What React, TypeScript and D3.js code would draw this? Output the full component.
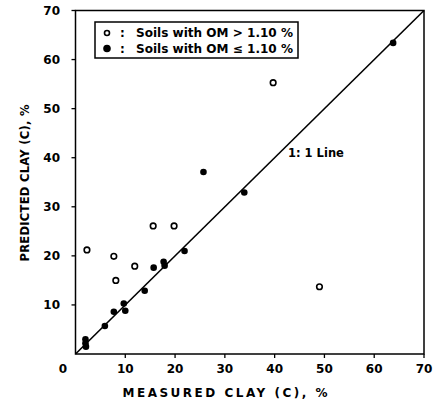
import React from "react";
import * as d3 from "d3";

// measured / predicted clay, soils with OM > 1.10 %
const openMeasured = [2.3, 7.7, 8.1, 11.9, 15.6, 19.8, 39.7, 49.0];
const openPredicted = [21.2, 19.9, 15.0, 17.9, 26.1, 26.1, 55.3, 13.7];

// soils with OM <= 1.10 %
const filledMeasured = [2.0, 2.0, 2.1, 5.9, 7.7, 9.7, 10.0, 13.9, 15.7, 17.7, 17.9, 21.9, 25.7, 33.9, 63.8];
const filledPredicted = [3.0, 2.2, 1.5, 5.7, 8.6, 10.3, 8.8, 12.9, 17.6, 18.8, 18.0, 21.0, 37.1, 32.9, 63.4];

const ticks = [10, 20, 30, 40, 50, 60, 70];
const legendLabels = ["Soils with OM > 1.10 %", "Soils with OM \u2264 1.10 %"];

const font = "'DejaVu Sans', sans-serif";

export default function App() {
  const width = 439, height = 412;
  const x = d3.scaleLinear().domain([0, 70]).range([75.5, 424]);
  const y = d3.scaleLinear().domain([0, 70]).range([354, 10.5]);

  const line = d3.line<number>().x(d => x(d)).y(d => y(d));

  return (
    <svg width={width} height={height} style={{ position: "absolute", left: 0, top: 0, background: "#fff" }}>
      {/* frame */}
      <rect x={x(0)} y={y(70)} width={x(70) - x(0)} height={y(0) - y(70)} fill="none" stroke="#000" strokeWidth={1.5} />

      {/* ticks */}
      {ticks.map(t => (
        <g key={"t" + t}>
          <line x1={x(0) - 4} x2={x(0)} y1={y(t)} y2={y(t)} stroke="#000" strokeWidth={1.3} />
          <text x={60} y={y(t)} dy="0.36em" textAnchor="end" fontFamily={font} fontWeight="bold" fontSize={12}>{t}</text>
          <line x1={x(t)} x2={x(t)} y1={y(0)} y2={y(0) + 4} stroke="#000" strokeWidth={1.3} />
          <text x={x(t)} y={373} textAnchor="middle" fontFamily={font} fontWeight="bold" fontSize={12}>{t}</text>
        </g>
      ))}
      <text x={63} y={373} textAnchor="middle" fontFamily={font} fontWeight="bold" fontSize={12}>0</text>

      {/* axis titles */}
      <text x={225} y={397} textAnchor="middle" fontFamily={font} fontWeight="bold" fontSize={12}
        textLength={205} lengthAdjust="spacing">MEASURED CLAY (C), %</text>
      <text transform="translate(29,183) rotate(-90)" textAnchor="middle" fontFamily={font} fontWeight="bold" fontSize={11.5}
        textLength={157} lengthAdjust="spacing">PREDICTED CLAY (C), %</text>

      {/* 1:1 line */}
      <path d={line([0, 70]) || ""} fill="none" stroke="#000" strokeWidth={1.6} />
      <text x={288} y={157} fontFamily={font} fontWeight="bold" fontSize={11.5}>1: 1 Line</text>

      {/* points */}
      {openMeasured.map((m, i) => (
        <circle key={"o" + i} cx={x(m)} cy={y(openPredicted[i])} r={2.8} fill="#fff" stroke="#000" strokeWidth={1.6} />
      ))}
      {filledMeasured.map((m, i) => (
        <circle key={"f" + i} cx={x(m)} cy={y(filledPredicted[i])} r={3.3} fill="#000" />
      ))}

      {/* legend */}
      <rect x={95} y={22} width={203} height={36} fill="#fff" stroke="#000" strokeWidth={1.5} />
      {legendLabels.map((l, i) => (
        <g key={"l" + i}>
          <circle cx={107} cy={33 + i * 15.5} r={i === 0 ? 2.5 : 3} fill={i === 0 ? "#fff" : "#000"} stroke="#000" strokeWidth={1.6} />
          <text x={120} y={33 + i * 15.5} dy="0.36em" fontFamily={font} fontWeight="bold" fontSize={12}>:</text>
          <text x={136} y={33 + i * 15.5} dy="0.36em" fontFamily={font} fontWeight="bold" fontSize={12}
            textLength={157} lengthAdjust="spacingAndGlyphs">{l}</text>
        </g>
      ))}
    </svg>
  );
}
